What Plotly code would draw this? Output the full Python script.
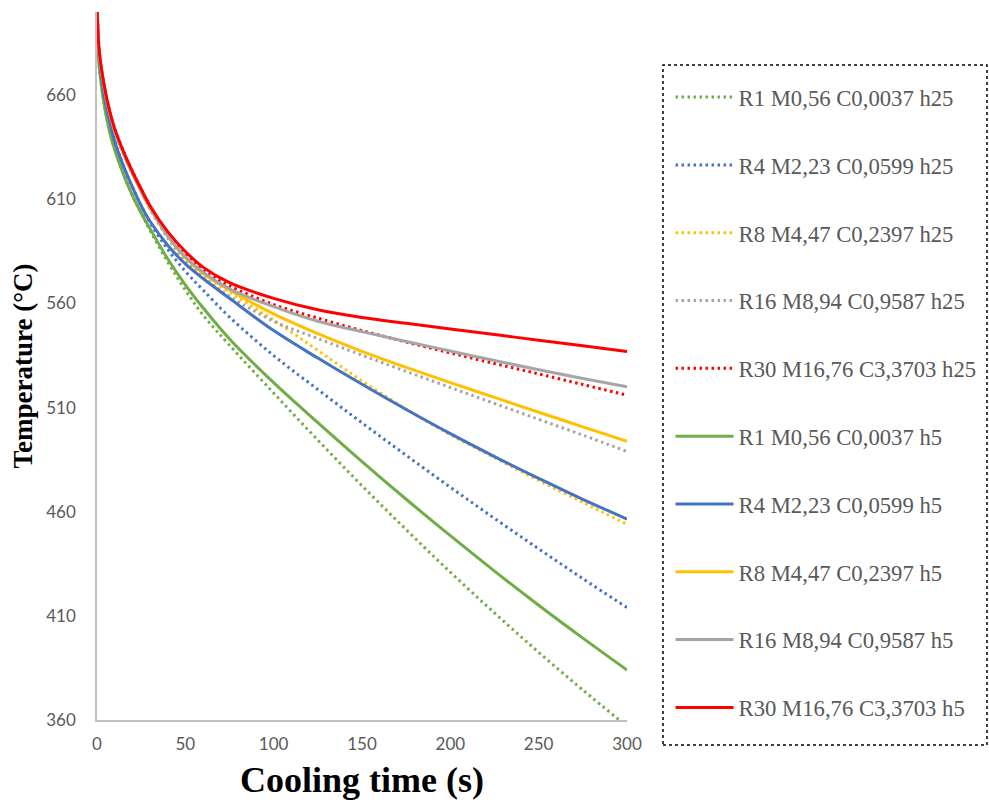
import plotly.graph_objects as go

# Cooling time (s)
time_s = [0, 1, 2, 4, 7, 10, 15, 20, 25, 30, 40, 50, 60, 75, 100, 125, 150, 175, 200, 225, 250, 275, 300]

# h25 series (dotted), temperature in °C
r1_h25 = [703, 677, 668, 656, 643, 634, 622, 612, 603.5, 595, 580, 566.5, 554.5, 540, 517, 494.4, 472.5, 451.4, 431, 411.4, 392.5, 374.4, 357]
r4_h25 = [703, 681, 672, 660, 648, 638, 626, 616, 607, 599, 586, 575.5, 566.5, 553.5, 535, 518.7, 502.7, 487.1, 471.8, 456.8, 442.2, 427.9, 414]
r8_h25 = [703, 683, 675, 664, 652, 643, 632, 622.5, 614, 605.5, 592, 581.5, 574, 565.5, 552, 537.5, 522.8, 509.3, 497, 486, 475, 464.5, 454]
r16_h25 = [703, 683, 675, 664, 652, 643, 632, 622.5, 614, 605.5, 591.5, 580.5, 572.5, 563.5, 551.5, 543.2, 535.2, 527.4, 519.7, 512, 504.4, 496.8, 489]
r30_h25 = [703, 684, 676, 665, 653, 644, 633, 623.5, 615, 606.5, 593, 583.5, 576, 568.5, 559.5, 553, 547, 541.5, 536.3, 531.2, 526.2, 521.1, 516]

# h5 series (solid), temperature in °C
r1_h5 = [703, 677, 668, 656, 643, 634, 622, 612, 603.5, 596, 581.5, 569, 558, 543, 522, 502.8, 484.1, 466, 448.5, 431.5, 415.1, 399.3, 384]
r4_h5 = [703, 681, 672, 660, 648, 638, 626, 616, 607, 599.5, 588, 579, 572, 562.5, 547, 533.8, 521.2, 509.1, 497.5, 486.5, 476, 466, 456.5]
r8_h5 = [703, 683, 675, 664, 652, 643, 632, 622.5, 614, 606, 592.5, 582, 574.5, 566.5, 555, 545.5, 537, 529.3, 522, 514.9, 507.8, 500.8, 493.8]
r16_h5 = [703, 683, 675, 664, 652, 643, 632, 622.5, 614, 606, 592.5, 582.5, 575, 567, 558.5, 551.5, 546.5, 541.8, 537.2, 532.6, 528.2, 524, 520]
r30_h5 = [703, 684, 676, 665, 653, 644, 633, 623.5, 615, 607, 594.5, 585, 577.5, 570, 562.5, 557, 553.3, 550.5, 547.8, 545.1, 542.4, 539.7, 537]

names = [
    "R1 M0,56 C0,0037 h25", "R4 M2,23 C0,0599 h25", "R8 M4,47 C0,2397 h25",
    "R16 M8,94 C0,9587 h25", "R30 M16,76 C3,3703 h25",
    "R1 M0,56 C0,0037 h5", "R4 M2,23 C0,0599 h5", "R8 M4,47 C0,2397 h5",
    "R16 M8,94 C0,9587 h5", "R30 M16,76 C3,3703 h5",
]
series = [r1_h25, r4_h25, r8_h25, r16_h25, r30_h25, r1_h5, r4_h5, r8_h5, r16_h5, r30_h5]
colors = ["#70AD47", "#4472C4", "#FFC000", "#A5A5A5", "#FF0000"] * 2
dashes = ["2.5px,3.5px"] * 5 + ["solid"] * 5

fig = go.Figure()
for i, (nm, ys) in enumerate(zip(names, series)):
    fig.add_trace(go.Scatter(
        x=time_s, y=ys, name=nm, mode="lines",
        line=dict(color=colors[i], width=3, dash=dashes[i], shape="spline", smoothing=1.0),
        legendgroup=f"g{i}",
    ))

fig.update_layout(
    width=989, height=807,
    margin=dict(l=97, r=362, t=12, b=87),
    plot_bgcolor="white", paper_bgcolor="white",
    showlegend=True,
    legend=dict(
        xref="container", yref="container",
        x=0.678, y=0.906, xanchor="left", yanchor="top",
        font=dict(family="Liberation Serif", size=22.7, color="#595959"),
        tracegroupgap=35.3, itemwidth=58, maxheight=790,
        bgcolor="rgba(0,0,0,0)",
    ),
    xaxis=dict(
        range=[0, 300], tickvals=[0, 50, 100, 150, 200, 250, 300],
        showgrid=False, zeroline=False, showline=True, linecolor="#BFBFBF", linewidth=1.5,
        ticks="", ticklabelstandoff=8,
        tickfont=dict(family="Lato", size=17, color="#595959"),
        title=dict(text="<b>Cooling time (s)</b>", standoff=14,
                   font=dict(family="Liberation Serif", size=36, color="black")),
    ),
    yaxis=dict(
        range=[360, 700], tickvals=[360, 410, 460, 510, 560, 610, 660],
        showgrid=False, zeroline=False, showline=True, linecolor="#BFBFBF", linewidth=1.5,
        ticks="", ticklabelstandoff=16,
        tickfont=dict(family="Lato", size=17, color="#595959"),
        title=dict(text="<b>Temperature (°C)</b>", standoff=6,
                   font=dict(family="Liberation Serif", size=27, color="black")),
    ),
    shapes=[dict(
        type="rect", xref="paper", yref="paper",
        x0=(663 - 97) / 530, x1=(987 - 97) / 530,
        y0=(720 - 745) / 708, y1=(720 - 65) / 708,
        line=dict(color="black", width=1.5, dash="dot"), fillcolor="rgba(0,0,0,0)",
    )],
)

fig.write_html("out.html")
